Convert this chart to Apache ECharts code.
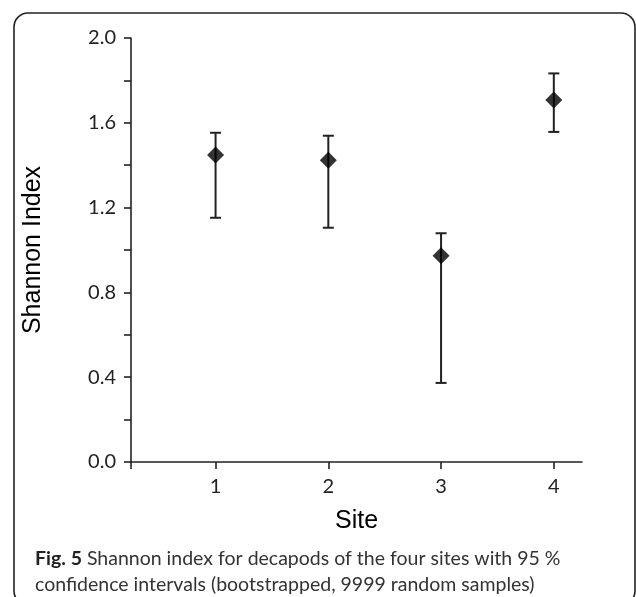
<!DOCTYPE html>
<html>
<head>
<meta charset="utf-8">
<style>
html,body{margin:0;padding:0;background:#fff;}
#chart{width:636px;height:597px;}
</style>
<script src="https://cdn.jsdelivr.net/npm/echarts@6/dist/echarts.min.js"></script>
</head>
<body>
<div id="chart"></div>
<script>
var sites = [1, 2, 3, 4];
var shannon = [1.448, 1.423, 0.973, 1.708];
var ciLower = [1.152, 1.105, 0.373, 1.557];
var ciUpper = [1.553, 1.539, 1.079, 1.833];
var yTicks = [0, 0.4, 0.8, 1.2, 1.6, 2.0];

var chart = echarts.init(document.getElementById('chart'));

var pointData = sites.map(function (s, i) { return [s, shannon[i]]; });
var errData = sites.map(function (s, i) { return [s, ciLower[i], ciUpper[i]]; });

chart.setOption({
  animation: false,
  backgroundColor: '#fff',
  graphic: [{
    type: 'rect',
    shape: { x: 14, y: 13, width: 621, height: 592, r: 14 },
    style: { fill: 'none', stroke: '#222', lineWidth: 1.6 },
    z: 0
  }],
  title: {
    left: 30,
    top: 541,
    text: '{b|Fig. 5} Shannon index for decapods of the four sites with 95 %\nconfidence intervals (bootstrapped, 9999 random samples)',
    textStyle: {
      fontFamily: 'Lato',
      fontSize: 19.5,
      fontWeight: 'normal',
      color: '#333',
      lineHeight: 26,
      rich: {
        b: { fontFamily: 'Lato', fontSize: 19.5, fontWeight: 'bold', color: '#222', lineHeight: 26 }
      }
    }
  },
  grid: { left: 131, right: 54, top: 38, bottom: 135 },
  xAxis: {
    type: 'value',
    min: 0.25,
    max: 4.25,
    name: 'Site',
    nameLocation: 'middle',
    nameGap: 47,
    nameTextStyle: { fontFamily: 'Liberation Sans', fontSize: 25, color: '#000' },
    axisLine: { show: true, lineStyle: { color: '#222', width: 1.6 } },
    axisTick: { show: true, length: 7, customValues: [0.25, 1, 2, 3, 4], lineStyle: { color: '#222', width: 1.6 } },
    axisLabel: { customValues: sites, fontFamily: 'Lato', fontSize: 20, color: '#222', margin: 15 },
    splitLine: { show: false }
  },
  yAxis: {
    type: 'value',
    min: 0,
    max: 2,
    interval: 0.4,
    name: 'Shannon Index',
    nameLocation: 'middle',
    nameGap: 85,
    nameTextStyle: { fontFamily: 'Liberation Sans', fontSize: 25, color: '#000' },
    axisLine: { show: true, lineStyle: { color: '#222', width: 1.6 } },
    axisTick: { show: true, length: 7, lineStyle: { color: '#222', width: 1.6 } },
    minorTick: { show: true, splitNumber: 2, length: 7, lineStyle: { color: '#222', width: 1.6 } },
    axisLabel: {
      fontFamily: 'Lato', fontSize: 20, color: '#222', margin: 15,
      formatter: function (v) { return v.toFixed(1); }
    },
    splitLine: { show: false }
  },
  series: [{
    type: 'custom',
    data: errData,
    z: 2,
    renderItem: function (params, api) {
      var x = api.value(0);
      var lo = api.coord([x, api.value(1)]);
      var hi = api.coord([x, api.value(2)]);
      var hw = 5.5;
      var st = { stroke: '#222', lineWidth: 2 };
      return {
        type: 'group',
        children: [
          { type: 'line', shape: { x1: lo[0], y1: lo[1], x2: hi[0], y2: hi[1] }, style: st },
          { type: 'line', shape: { x1: lo[0] - hw, y1: lo[1], x2: lo[0] + hw, y2: lo[1] }, style: st },
          { type: 'line', shape: { x1: hi[0] - hw, y1: hi[1], x2: hi[0] + hw, y2: hi[1] }, style: st }
        ]
      };
    }
  }, {
    type: 'scatter',
    data: pointData,
    symbol: 'diamond',
    symbolSize: [17, 17],
    itemStyle: { color: '#000' },
    z: 3
  }]
});
</script>
</body>
</html>
